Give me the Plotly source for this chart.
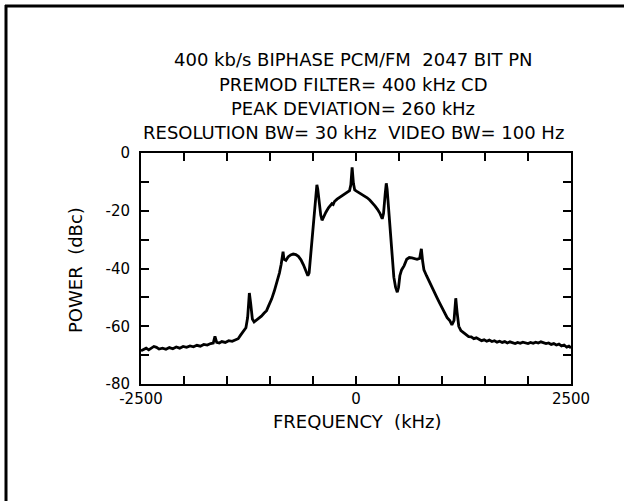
import plotly.graph_objects as go

# Spectrum trace (frequency in kHz, power in dBc)
freq_khz = [
    -2500, -2470, -2440, -2410, -2380, -2350, -2320, -2290, -2250, -2210,
    -2170, -2130, -2090, -2050, -2010, -1970, -1930, -1890, -1850, -1810,
    -1770, -1730, -1690, -1660, -1640, -1620, -1590, -1560, -1520, -1480,
    -1440, -1400, -1370, -1340, -1310, -1280, -1260, -1240, -1225, -1205,
    -1185, -1160, -1130, -1100, -1070, -1040, -1010, -980, -950, -920,
    -890, -870, -855, -848, -838, -815, -790, -760, -730, -700,
    -670, -640, -610, -580, -560, -545, -530, -510, -490, -470,
    -455, -445, -430, -410, -395, -375, -350, -320, -300, -280,
    -265, -250, -220, -190, -160, -130, -100, -75, -60, -45,
    -30, -15, 10, 40, 70, 100, 130, 160, 190, 220,
    250, 280, 305, 320, 340, 352, 362, 380, 400, 420,
    440, 460, 480, 495, 510, 530, 560, 590, 620, 650,
    680, 710, 740, 760, 775, 790, 820, 850, 880, 910,
    940, 970, 1000, 1030, 1060, 1090, 1115, 1140, 1160, 1175,
    1195, 1220, 1250, 1280, 1310, 1340, 1370, 1400, 1430, 1460,
    1490, 1520, 1550, 1580, 1610, 1640, 1670, 1700, 1730, 1760,
    1790, 1820, 1850, 1880, 1910, 1940, 1970, 2000, 2030, 2060,
    2090, 2120, 2150, 2180, 2210, 2240, 2270, 2300, 2330, 2360,
    2390, 2420, 2450, 2475, 2500,
]
power_dbc = [
    -68.5, -68.0, -67.6, -68.2, -67.5, -67.0, -67.3, -67.9, -67.6, -68.0,
    -67.4, -67.8, -67.2, -67.6, -67.0, -67.3, -66.8, -67.1, -66.6, -66.9,
    -66.3, -66.5, -66.0, -65.8, -63.5, -65.6, -65.8, -65.3, -65.6, -65.0,
    -65.2, -64.6, -64.3, -63.0, -61.8, -60.5, -57.0, -48.5, -52.0, -57.5,
    -58.5, -58.0, -57.2, -56.5, -55.5, -54.6, -52.5, -50.5, -47.8, -45.0,
    -41.5, -38.5, -35.5, -34.2, -36.8, -37.2, -36.0, -35.3, -35.0, -35.2,
    -35.8, -37.0, -38.8, -41.0, -42.5, -41.5, -36.0, -29.0, -21.0, -14.0,
    -11.0, -12.5, -17.0, -21.5, -23.3, -21.8, -20.5, -19.0, -18.3, -17.5,
    -17.8, -16.8, -16.0, -15.4, -14.8, -14.2, -13.6, -13.0, -11.0, -5.0,
    -10.5, -12.8, -13.3, -13.8, -14.3, -15.0, -15.5, -16.3, -17.2, -18.3,
    -19.5, -21.0, -22.8, -21.0, -14.0, -10.5, -12.5, -20.0, -29.0, -37.0,
    -43.0, -46.5, -48.2, -46.5, -42.5, -40.5, -39.0, -36.8, -36.2, -36.3,
    -36.6, -36.8, -36.5, -33.2, -37.5, -40.5, -42.5, -44.5, -46.5, -48.0,
    -50.0, -51.8, -53.5, -55.5, -57.0, -58.0, -59.5, -58.0, -50.3, -55.0,
    -60.0, -61.5, -62.3, -63.0, -63.6, -63.7, -64.3, -64.0, -64.6, -65.0,
    -64.7, -65.2, -64.8, -65.3, -65.0, -65.5, -65.2, -65.6, -65.3, -65.8,
    -65.4, -65.7, -66.0, -65.6, -65.9, -65.5, -65.8, -66.0, -65.6, -65.9,
    -65.5, -65.8, -65.4, -65.7, -66.0, -65.8, -66.3, -66.0, -66.5, -66.2,
    -66.8, -66.5, -67.2, -66.9, -67.5,
]

x_tick_vals = [-2500, -2000, -1500, -1000, -500, 0, 500, 1000, 1500, 2000, 2500]
x_tick_text = ["-2500", "", "", "", "", "0", "", "", "", "", "2500"]
y_tick_vals = [0, -10, -20, -30, -40, -50, -60, -70, -80]
y_tick_text = ["0", "", "-20", "", "-40", "", "-60", "", "-80"]

title_lines = [
    "400 kb/s BIPHASE PCM/FM  2047 BIT PN",
    "PREMOD FILTER= 400 kHz CD",
    "PEAK DEVIATION= 260 kHz",
    "RESOLUTION BW= 30 kHz  VIDEO BW= 100 Hz",
]

W, H = 624, 501
L, R, T, B = 141, 53, 153, 117
pw, ph = W - L - R, H - T - B

def px_x(x):
    return (x - L) / pw

def px_y(y):
    return (H - B - y) / ph

FONT = "DejaVu Sans"

fig = go.Figure()
fig.add_trace(go.Scatter(
    x=freq_khz, y=power_dbc, mode="lines",
    line=dict(color="black", width=2.8), hoverinfo="skip", showlegend=False,
))

axis_common = dict(
    showgrid=False, zeroline=False, showline=True, linecolor="black", linewidth=2,
    mirror="ticks", ticks="inside", ticklen=8, tickwidth=2, tickcolor="black",
    tickfont=dict(family=FONT, size=15, color="black"),
)
fig.update_xaxes(range=[-2500, 2500], tickmode="array", tickvals=x_tick_vals,
                 ticktext=x_tick_text, ticklabelstandoff=0, **axis_common)
fig.update_yaxes(range=[-80, 0], tickmode="array", tickvals=y_tick_vals,
                 ticktext=y_tick_text, ticklabelstandoff=6, **axis_common)

annotations = []
for txt, ypx in zip(title_lines, [59, 84, 108, 132]):
    annotations.append(dict(
        text=txt, x=px_x(353), y=px_y(ypx), xref="paper", yref="paper",
        showarrow=False, xanchor="center", yanchor="middle",
        font=dict(family=FONT, size=18, color="black"),
    ))
annotations.append(dict(
    text="POWER  (dBc)", x=px_x(75), y=px_y(270), xref="paper", yref="paper",
    showarrow=False, textangle=-90, xanchor="center", yanchor="middle",
    font=dict(family=FONT, size=18, color="black"),
))
annotations.append(dict(
    text="FREQUENCY  (kHz)", x=px_x(357), y=px_y(421), xref="paper", yref="paper",
    showarrow=False, xanchor="center", yanchor="middle",
    font=dict(family=FONT, size=18, color="black"),
))

shapes = [
    dict(type="line", xref="paper", yref="paper", x0=px_x(6), y0=px_y(H + 5), x1=px_x(6), y1=px_y(5),
         line=dict(color="black", width=3)),
    dict(type="line", xref="paper", yref="paper", x0=px_x(5), y0=px_y(6), x1=px_x(W + 5), y1=px_y(6),
         line=dict(color="black", width=3)),
]

fig.update_layout(
    width=W, height=H, margin=dict(l=L, r=R, t=T, b=B, pad=0),
    paper_bgcolor="white", plot_bgcolor="white",
    annotations=annotations, shapes=shapes, showlegend=False,
)

fig.write_html(
    "out.html",
    config={"displayModeBar": False, "staticPlot": True},
    post_script="document.body.style.margin='0';document.body.style.overflow='hidden';",
)
